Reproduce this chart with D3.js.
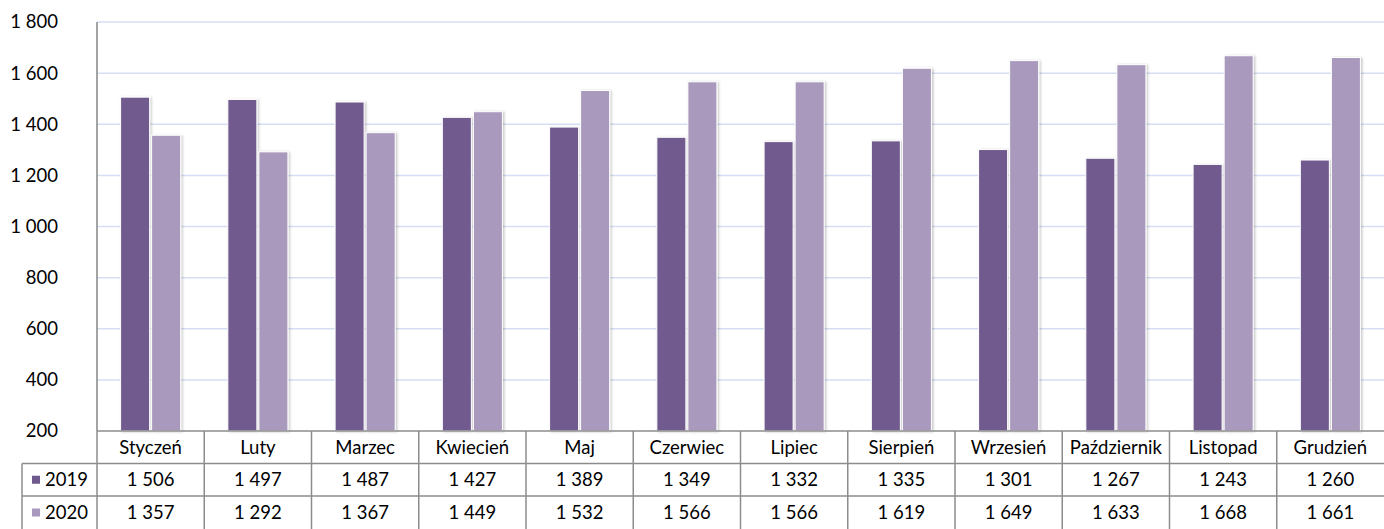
<!DOCTYPE html>
<html><head><meta charset="utf-8">
<script src="https://cdn.jsdelivr.net/npm/d3@7/dist/d3.min.js"></script>
<style>body{margin:0;background:#fff}svg{display:block}</style>
</head><body>
<svg id="c" width="1384" height="529"></svg>
<script>
const months = ["Styczeń","Luty","Marzec","Kwiecień","Maj","Czerwiec","Lipiec","Sierpień","Wrzesień","Październik","Listopad","Grudzień"];
const seriesNames = ["2019","2020"];
const values2019 = [1506,1497,1487,1427,1389,1349,1332,1335,1301,1267,1243,1260];
const values2020 = [1357,1292,1367,1449,1532,1566,1566,1619,1649,1633,1668,1661];
const yTicks = [200,400,600,800,1000,1200,1400,1600,1800];
const colors = ["#6f5a8e","#a899bd"];

const svg = d3.select("#c");
const plotLeft = 97, plotRight = 1384, plotTop = 22, plotBottom = 431;
const rowH = 32.5;
const font = "Lato, 'Open Sans', sans-serif";
const fs = 18.5;
const fmtN = v => String(v).replace(/\B(?=(\d{3})+(?!\d))/g, " ");

const defs = svg.append("defs");
const f = defs.append("filter").attr("id","sh").attr("x","-20%").attr("y","-5%").attr("width","150%").attr("height","120%");
f.append("feDropShadow").attr("dx",1.5).attr("dy",0.5).attr("stdDeviation",1.2).attr("flood-color","#000").attr("flood-opacity",0.22);

const x = d3.scaleBand().domain(months).range([plotLeft, plotRight]);
const y = d3.scaleLinear().domain([200,1800]).range([plotBottom, plotTop]);
const xs = d3.scaleBand().domain(seriesNames).range([0, x.bandwidth()]).paddingInner(0.065).paddingOuter(0.76);

// gridlines
svg.append("g").selectAll("line").data(yTicks.filter(t=>t>200)).join("line")
  .attr("x1", plotLeft).attr("x2", plotRight).attr("y1", d=>y(d)).attr("y2", d=>y(d))
  .attr("stroke","#d5def2").attr("stroke-width",1.5);

// y labels
svg.append("g").selectAll("text").data(yTicks).join("text")
  .attr("x", 58).attr("y", d=>y(d)).attr("dy","0.35em").attr("text-anchor","end")
  .attr("font-family", font).attr("font-size", fs).attr("fill","#000")
  .text(d=>fmtN(d));

// bars
const series = [values2019, values2020];
series.forEach((vals, si) => {
  svg.append("g").selectAll("rect").data(months).join("rect")
    .attr("x", m => x(m) + xs(seriesNames[si]))
    .attr("y", (m,i) => y(vals[i]))
    .attr("width", xs.bandwidth())
    .attr("height", (m,i) => plotBottom - y(vals[i]))
    .attr("fill", colors[si])
    .attr("stroke","#fff").attr("stroke-width",1)
    .attr("filter","url(#sh)");
});

// axis line
svg.append("line").attr("x1",plotLeft).attr("x2",plotLeft).attr("y1",plotTop).attr("y2",plotBottom)
  .attr("stroke","#868686").attr("stroke-width",1.5);

// table
const tg = svg.append("g");
const gray = "#8c8c8c";
const legendLeft = 22;
const r0 = plotBottom, r1 = plotBottom + rowH, r2 = plotBottom + 2*rowH, r3 = 529;
tg.append("line").attr("x1",plotLeft).attr("x2",plotRight).attr("y1",r0).attr("y2",r0).attr("stroke",gray).attr("stroke-width",1.5);
[r1, r2].forEach(yy => tg.append("line").attr("x1",legendLeft).attr("x2",plotRight).attr("y1",yy).attr("y2",yy).attr("stroke",gray).attr("stroke-width",1.5));
tg.append("line").attr("x1",legendLeft).attr("x2",legendLeft).attr("y1",r1).attr("y2",r3).attr("stroke",gray).attr("stroke-width",1.5);
tg.selectAll("line.v").data(months).join("line").attr("class","v")
  .attr("x1", m=>x(m)).attr("x2", m=>x(m)).attr("y1", r0).attr("y2", r3)
  .attr("stroke",gray).attr("stroke-width",1.5);

tg.selectAll("text.cat").data(months).join("text").attr("class","cat")
  .attr("x", m=>x(m)+x.bandwidth()/2).attr("y", (r0+r1)/2).attr("dy","0.35em")
  .attr("text-anchor","middle").attr("font-family",font).attr("font-size",fs).text(m=>m);

const rowsY = [(r1+r2)/2, (r2+r3)/2];
series.forEach((vals, si) => {
  tg.append("g").selectAll("text").data(months).join("text")
    .attr("x", m=>x(m)+x.bandwidth()/2).attr("y", rowsY[si]).attr("dy","0.35em")
    .attr("text-anchor","middle").attr("font-family",font).attr("font-size",fs)
    .text((m,i)=>fmtN(vals[i]));
  tg.append("rect").attr("x", 32).attr("y", rowsY[si]-4).attr("width",8).attr("height",8).attr("fill",colors[si]);
  tg.append("text").attr("x", 45).attr("y", rowsY[si]).attr("dy","0.35em")
    .attr("font-family",font).attr("font-size",fs).text(seriesNames[si]);
});
</script>
</body></html>
